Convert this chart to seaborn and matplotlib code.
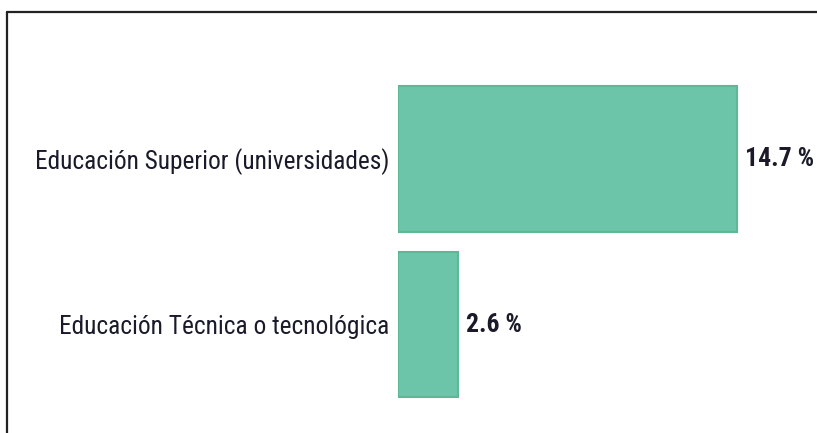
import matplotlib
matplotlib.use("Agg")
import matplotlib.pyplot as plt
from matplotlib.lines import Line2D
import seaborn as sns
import pandas as pd

# Share of enrolment by level of education
categories = ["Educación Superior (universidades)", "Educación Técnica o tecnológica"]
values = [14.7, 2.6]
value_labels = ["14.7 %", "2.6 %"]

sns.set_theme(style="white")
plt.rcParams["font.family"] = ["Roboto Condensed", "Lato", "DejaVu Sans"]

df = pd.DataFrame({"categoria": categories, "valor": values})

W, H = 817, 433
fig = plt.figure(figsize=(W / 100, H / 100), dpi=100)
fig.patch.set_facecolor("white")

# axes placed in pixel terms
left_px, right_px = 398, 790
top_px, bottom_px = 76.25, 407.25
ax = fig.add_axes([left_px / W, 1 - bottom_px / H,
                   (right_px - left_px) / W, (bottom_px - top_px) / H])

sns.barplot(data=df, x="valor", y="categoria", ax=ax, orient="h",
            color="#6cc5a8", saturation=1, width=0.88,
            edgecolor="#5cb895", linewidth=1.5)

ax.set_xlim(0, 17)
ax.set_ylim(1.5, -0.5)
ax.set_xlabel("")
ax.set_ylabel("")
ax.set_xticks([])
for s in ax.spines.values():
    s.set_visible(False)
ax.tick_params(axis="y", length=0, pad=6, labelsize=18.3, labelcolor="#1a1a2a")

for i, (v, lab) in enumerate(zip(values, value_labels)):
    ax.text(v + 0.33, i, lab, va="center", ha="left", fontsize=18.5,
            fontweight="bold", color="#1a1a2a")

# frame lines on the left and top edges
fig.add_artist(Line2D([7 / W, 7 / W], [0, 1 - 12 / H], transform=fig.transFigure,
                      color="#222222", linewidth=1.6))
fig.add_artist(Line2D([7 / W, 1], [1 - 12 / H, 1 - 12 / H], transform=fig.transFigure,
                      color="#222222", linewidth=1.6))

fig.savefig("out.png", dpi=100, facecolor="white")
